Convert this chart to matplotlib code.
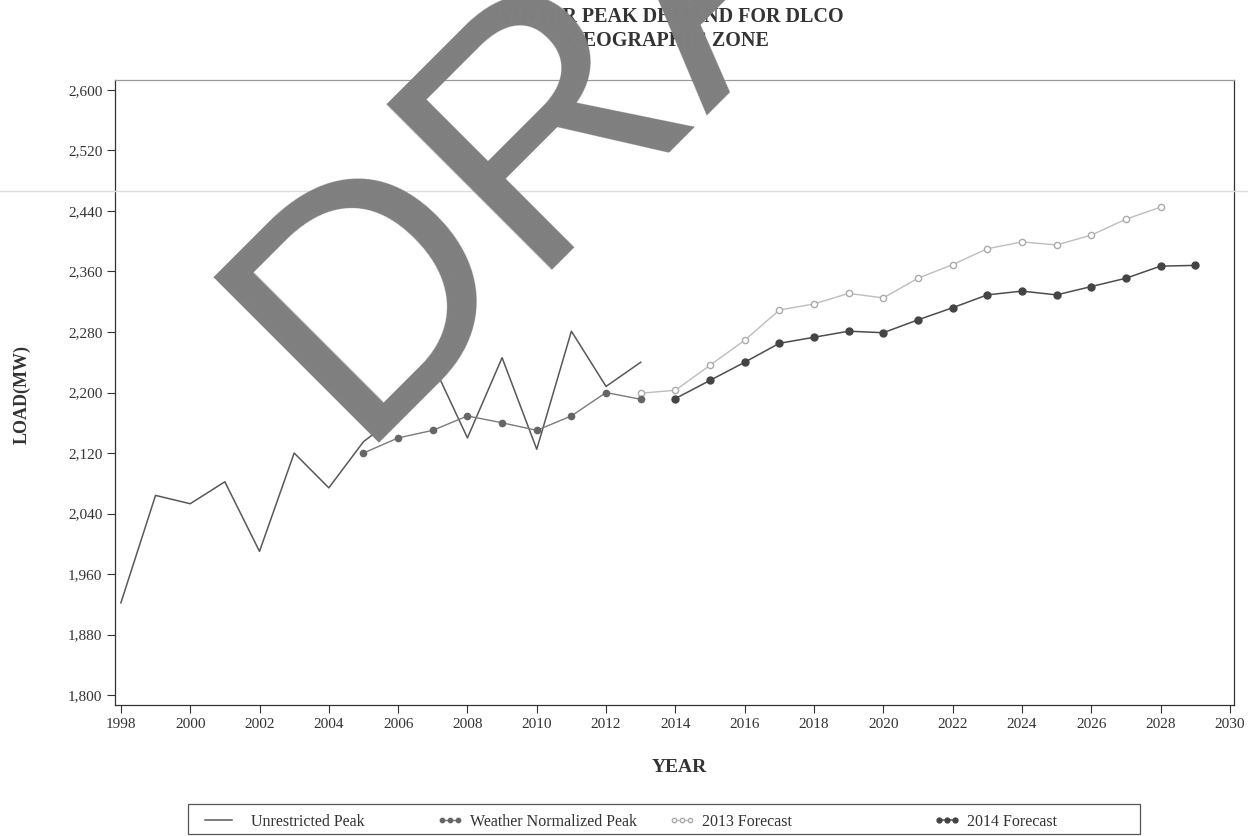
import matplotlib
matplotlib.use("Agg")
import matplotlib.pyplot as plt
from matplotlib.lines import Line2D
from matplotlib.patches import Rectangle
from matplotlib.ticker import FuncFormatter

plt.rcParams['font.family'] = ['Liberation Serif', 'DejaVu Serif']

# Winter peak load, MW
unrestricted_years = list(range(1998, 2014))
unrestricted_peak = [1922, 2064, 2053, 2082, 1990, 2120, 2074, 2135, 2170, 2238,
                     2140, 2246, 2125, 2281, 2208, 2240]

normalized_years = list(range(2005, 2014))
normalized_peak = [2120, 2140, 2150, 2169, 2160, 2150, 2169, 2200, 2191]

forecast_2013_years = list(range(2013, 2029))
forecast_2013 = [2199, 2203, 2236, 2269, 2309, 2317, 2331, 2325, 2351, 2369,
                 2390, 2399, 2395, 2408, 2429, 2445]

forecast_2014_years = list(range(2014, 2030))
forecast_2014 = [2192, 2216, 2240, 2265, 2273, 2281, 2279, 2296, 2312, 2329,
                 2334, 2329, 2340, 2351, 2367, 2368]

series_labels = ["Unrestricted Peak", "Weather Normalized Peak",
                 "2013 Forecast", "2014 Forecast"]

x_ticks = list(range(1998, 2031, 2))
y_ticks = list(range(1800, 2601, 80))

W, H = 1248, 836


def fx(px):
    return px / W


def fy(py):
    return 1 - py / H


fig = plt.figure(figsize=(W / 100, H / 100), dpi=100)
ax = fig.add_axes([fx(115), fy(705), (1234 - 115) / W, (705 - 80) / H])

h1, = ax.plot(unrestricted_years, unrestricted_peak, color='#585858', lw=1.1,
              label=series_labels[0], zorder=3)
h2, = ax.plot(normalized_years, normalized_peak, color='#7a7a7a', lw=1.0,
              marker='o', ms=4.5, mfc='#666666', mec='#666666',
              label=series_labels[1], zorder=4)
h3, = ax.plot(forecast_2013_years, forecast_2013, color='#bdbdbd', lw=1.0,
              marker='o', ms=4.5, mfc='white', mec='#aaaaaa', mew=1.0,
              label=series_labels[2], zorder=3)
h4, = ax.plot(forecast_2014_years, forecast_2014, color='#4d4d4d', lw=1.1,
              marker='o', ms=5, mfc='#444444', mec='#444444',
              label=series_labels[3], zorder=4)

ax.set_xlim(1997.83, 2030.12)
ax.set_ylim(1787, 2613)
ax.set_xticks(x_ticks)
ax.set_yticks(y_ticks)
ax.yaxis.set_major_formatter(FuncFormatter(lambda v, p: f"{int(v):,}"))
ax.tick_params(direction='out', length=6, width=0.8, colors='#333333',
               labelsize=11, pad=3)
for s in ax.spines.values():
    s.set_color('#333333')
    s.set_linewidth(0.9)
ax.spines['top'].set_color('#999999')

fig.text(fx(679), fy(767), "YEAR", ha='center', va='center',
         fontsize=14, fontweight='bold', color='#333333')
fig.text(fx(22), fy(395), "LOAD(MW)", ha='center', va='center',
         rotation=90, fontsize=13, fontweight='bold', color='#333333')

fig.text(fx(668), fy(29), "WINTER PEAK DEMAND FOR DLCO\nGEOGRAPHIC ZONE",
         ha='center', va='center', fontsize=14.5, fontweight='bold',
         color='#333333', linespacing=1.2)

# legend: one framed strip, four entries
fig.add_artist(Rectangle((fx(188), fy(834)), (1140 - 188) / W, 30 / H,
                         transform=fig.transFigure, fill=False,
                         edgecolor='#555555', lw=0.9))
entry_x = [200, 437, 669, 934]
entry_len = [2.3, 1.6, 1.6, 1.6]
entry_pad = [0.9, 0.45, 0.45, 0.45]
for h, lab, x0, hl, tp in zip([h1, h2, h3, h4], series_labels, entry_x,
                              entry_len, entry_pad):
    fig.legend(handles=[h], labels=[lab], loc='center left',
               bbox_to_anchor=(fx(x0), fy(822)), frameon=False,
               borderpad=0, borderaxespad=0, handlelength=hl,
               handletextpad=tp, numpoints=3, markerscale=0.7,
               fontsize=11.5, labelcolor='#333333')

# faint horizontal rule across the sheet
fig.add_artist(Line2D([0, 1], [fy(191), fy(191)], color='#dddddd',
                      lw=1.0, transform=fig.transFigure, zorder=1))

# draft stamp
fig.text(fx(351), fy(443), "DRAFT", rotation=45, rotation_mode='anchor',
         ha='left', va='baseline', fontsize=245, color='#7f7f7f',
         family='Liberation Sans', zorder=10)

fig.savefig("out.png", dpi=100, facecolor='white')
